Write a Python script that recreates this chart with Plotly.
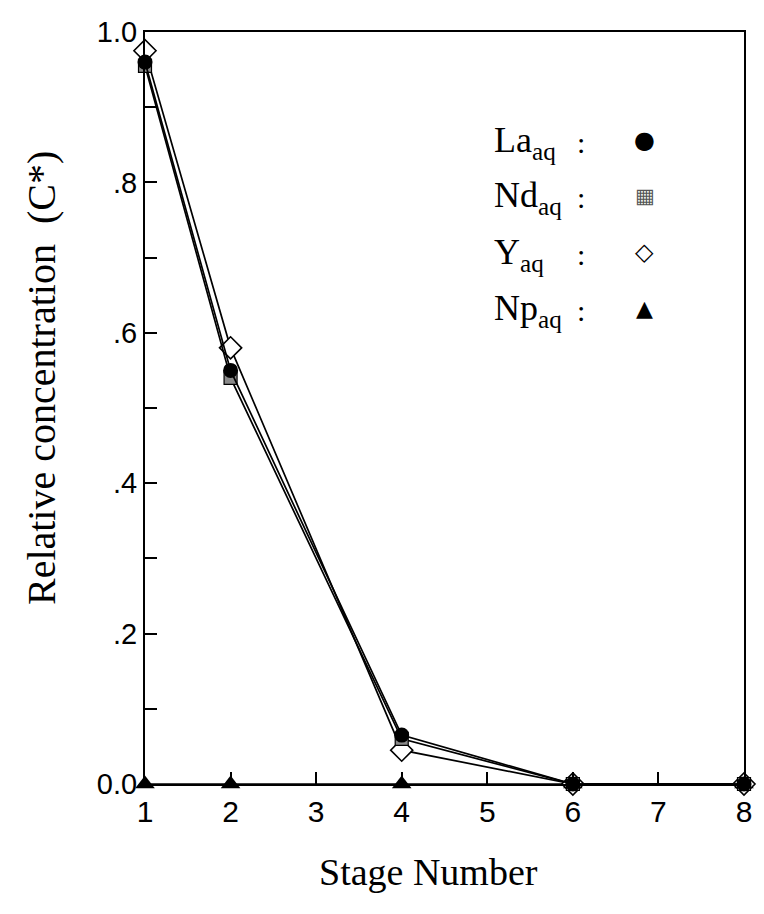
import plotly.graph_objects as go

stages = [1, 2, 4, 6, 8]
la_aq = [0.96, 0.55, 0.065, 0.0, 0.0]
nd_aq = [0.955, 0.54, 0.06, 0.0, 0.0]
y_aq = [0.975, 0.58, 0.045, 0.0, 0.0]
np_aq = [0.0, 0.0, 0.0, 0.0, 0.0]

x_ticks = [1, 2, 3, 4, 5, 6, 7, 8]
y_tickvals = [0.0, 0.2, 0.4, 0.6, 0.8, 1.0]
y_ticktext = ["0.0", ".2", ".4", ".6", ".8", "1.0"]

legend_labels = ["La<sub>aq</sub>", "Nd<sub>aq</sub>", "Y<sub>aq</sub>", "Np<sub>aq</sub>"]
legend_symbols = ["●", "▦", "◇", "▲"]
legend_sizes = [24, 21, 24, 22]
legend_colors = ["black", "#555555", "black", "black"]

fig = go.Figure()

line = dict(color="black", width=1.7)
fig.add_trace(go.Scatter(x=stages, y=np_aq, mode="lines+markers", line=line,
                         marker=dict(symbol="triangle-up", size=17, color="black"),
                         cliponaxis=False, showlegend=False))
fig.add_trace(go.Scatter(x=stages, y=y_aq, mode="lines+markers", line=line,
                         marker=dict(symbol="diamond", size=17, color="white",
                                     line=dict(color="black", width=1.6)),
                         cliponaxis=False, showlegend=False))
fig.add_trace(go.Scatter(x=stages, y=nd_aq, mode="lines+markers", line=line,
                         marker=dict(symbol="square", size=13, color="#8a8a8a",
                                     line=dict(color="black", width=1.2)),
                         cliponaxis=False, showlegend=False))
fig.add_trace(go.Scatter(x=stages, y=la_aq, mode="lines+markers", line=line,
                         marker=dict(symbol="circle", size=15, color="black"),
                         cliponaxis=False, showlegend=False))

L, R, T, B = 145, 14, 32, 130
W, H = 764, 914
pw, ph = W - L - R, H - T - B

def px(x):
    return (x - L) / pw

def py(y):
    return (H - B - y) / ph

annotations = []
serif = "Liberation Serif, Times New Roman, serif"
for i, (lab, sym) in enumerate(zip(legend_labels, legend_symbols)):
    yc = 142 + i * 56
    annotations.append(dict(x=px(495), y=py(yc), xref="paper", yref="paper",
                            text=lab, showarrow=False, xanchor="left", yanchor="middle",
                            font=dict(family=serif, size=36, color="black")))
    annotations.append(dict(x=px(585), y=py(yc), xref="paper", yref="paper",
                            text=":", showarrow=False, xanchor="center", yanchor="middle",
                            font=dict(family=serif, size=30, color="black")))
    annotations.append(dict(x=px(650), y=py(yc - 2), xref="paper", yref="paper",
                            text=sym, showarrow=False, xanchor="center", yanchor="middle",
                            font=dict(family="DejaVu Sans", size=legend_sizes[i],
                                      color=legend_colors[i])))

annotations.append(dict(x=px(431), y=py(872), xref="paper", yref="paper",
                        text="Stage Number", showarrow=False, xanchor="center",
                        yanchor="middle", font=dict(family=serif, size=38, color="black")))
annotations.append(dict(x=px(40), y=py(378), xref="paper", yref="paper",
                        text="Relative concentration  (C*)", showarrow=False,
                        textangle=-90, xanchor="center", yanchor="middle",
                        font=dict(family=serif, size=40, color="black")))

fig.update_layout(
    width=W, height=H,
    margin=dict(l=L, r=R, t=T, b=B),
    paper_bgcolor="white", plot_bgcolor="white",
    showlegend=False,
    annotations=annotations,
    font=dict(family="Liberation Sans, Arial, sans-serif", color="black"),
)
fig.update_xaxes(range=[1, 8], tickvals=x_ticks, ticks="inside", ticklen=12,
                 tickwidth=1.5, tickcolor="black", showline=True, linecolor="black",
                 linewidth=2, mirror=True, showgrid=False, zeroline=False,
                 tickfont=dict(size=30, family="Liberation Sans, Arial, sans-serif"))
fig.update_yaxes(range=[0, 1.0], tickvals=y_tickvals, ticktext=y_ticktext,
                 ticks="inside", ticklen=12, tickwidth=1.5, tickcolor="black",
                 minor=dict(dtick=0.1, ticks="inside", ticklen=12, tickwidth=1.5,
                            tickcolor="black", showgrid=False),
                 showline=True, linecolor="black", linewidth=2, mirror=True,
                 showgrid=False, zeroline=False,
                 tickfont=dict(size=29, family="Liberation Sans, Arial, sans-serif"))

fig.write_html("out.html")
